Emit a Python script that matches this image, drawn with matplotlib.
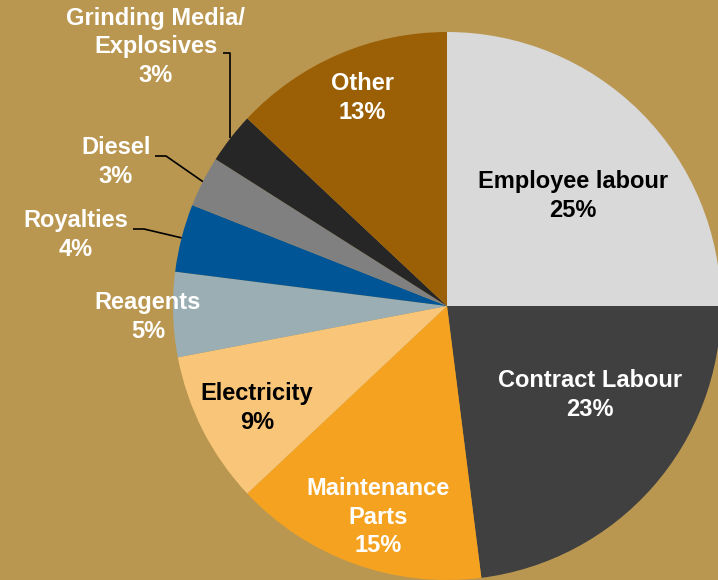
import numpy as np
import matplotlib.pyplot as plt

plt.rcParams['font.family'] = ['Liberation Sans', 'DejaVu Sans']

# data
labels = ['Employee labour', 'Contract Labour', 'Maintenance\nParts', 'Electricity',
          'Reagents', 'Royalties', 'Diesel', 'Grinding Media/\nExplosives', 'Other']
shares = [25, 23, 15, 9, 5, 4, 3, 3, 13]
colors = ['#D9D9D9', '#404040', '#F4A21F', '#F9C679', '#9AAEB3',
          '#005596', '#808080', '#262626', '#9B6005']
text_colors = ['black', 'white', 'white', 'black', 'white',
               'white', 'white', 'white', 'white']

BG = '#BA9751'
W, H = 718, 580

# label centres in pixel coords (from top-left)
label_pos = [(573, 196), (590, 395), (378, 517), (257, 408), (148, 317),
             (76, 235), (116, 162), (156, 47), (362, 98)]
# outer labels with leader lines: index -> start of leader at the text
leaders = {5: (133, 229), 6: (155, 156), 7: (223, 53)}

fig = plt.figure(figsize=(W / 100, H / 100), dpi=100, facecolor=BG)
ax = fig.add_axes([0, 0, 1, 1])
ax.set_facecolor(BG)

cx, cy, r = 447, 306, 274
wedges, _ = ax.pie(shares, colors=colors, startangle=90, counterclock=False,
                   radius=r, center=(cx, H - cy),
                   wedgeprops=dict(linewidth=0))
ax.set_xlim(0, W)
ax.set_ylim(0, H)
ax.set_aspect('equal')
ax.axis('off')

for i, (lab, val) in enumerate(zip(labels, shares)):
    x, y = label_pos[i]
    ax.text(x, H - y, f'{lab}\n{val}%', ha='center', va='center',
            fontsize=17, fontweight='bold', color=text_colors[i],
            linespacing=1.3)
    if i in leaders:
        w = wedges[i]
        mid = np.deg2rad((w.theta1 + w.theta2) / 2)
        ex = cx + r * np.cos(mid)
        ey = (H - cy) + r * np.sin(mid)
        sx, sy = leaders[i]
        if i == 7:
            # horizontal then straight down to the pie edge
            xs = [sx, ex, ex]
            ys = [H - sy, H - sy, ey]
        else:
            xs = [sx, sx + 11, ex]
            ys = [H - sy, H - sy, ey]
        ax.plot(xs, ys, color='black', lw=1.2, solid_capstyle='butt')

fig.savefig('out.png', dpi=100, facecolor=BG)
